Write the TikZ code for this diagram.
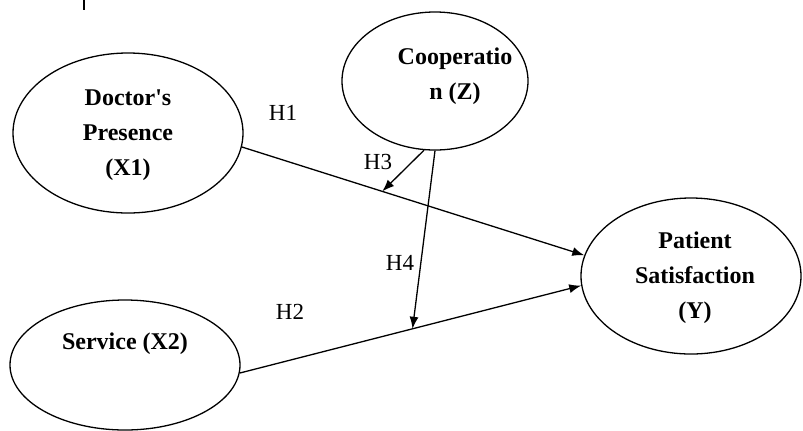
\documentclass[tikz,border=0pt]{standalone}
\usepackage{fontspec}
\setmainfont{Liberation Serif}
\usetikzlibrary{shapes.geometric,arrows.meta,calc}
\tikzset{
  construct/.style={draw, ellipse, line width=0.65pt, inner sep=0pt},
  ctext/.style={font=\fontsize{12}{17.5}\selectfont\bfseries, align=center, inner sep=0pt},
  hlabel/.style={font=\fontsize{11.5}{14}\selectfont, inner sep=0pt},
  path/.style={line width=0.65pt, -{Latex[length=6pt,width=4.5pt]}}
}
\begin{document}
\begin{tikzpicture}[x=0.5pt,y=-0.5pt]
\useasboundingbox (0,0) rectangle (803,430);
% tick at top
\coordinate (t1) at (84,0);
\coordinate (t2) at (84,10);
\draw[line width=0.6pt] (t1) -- (t2);
% constructs
\node[construct, minimum width=115pt, minimum height=80pt] (x1) at (128,133) {};
\node[construct, minimum width=93pt, minimum height=69pt] (z) at (435,81) {};
\node[construct, minimum width=110pt, minimum height=78pt] (y) at (691,276) {};
\node[construct, minimum width=115pt, minimum height=65pt] (x2) at (125,365) {};
% texts
\node[ctext] (tx1) at (128,135) {Doctor\textquotesingle s\\Presence\\(X1)};
\node[ctext, text depth=0pt] (tz) at (455,74) {Cooperatio\\n (Z)};
\node[ctext] (ty) at (695,278) {Patient\\Satisfaction\\(Y)};
\node[ctext] (tx2) at (125,344) {Service (X2)};
% main paths
\coordinate (h1s) at (x1.-7);
\coordinate (h1e) at (y.169.6);
\coordinate (h2s) at (x2.-4);
\coordinate (h2e) at (y.185.7);
\draw[path] (h1s) -- (h1e);
\draw[path] (h2s) -- (h2e);
% moderation
\coordinate (m1) at ($(h1s)!0.41!(h1e)$);
\coordinate (m2) at ($(h2s)!0.506!(h2e)$);
\draw[path] (z.261.5) -- (m1);
\draw[path] (z.270) -- (m2);
% labels
\node[hlabel] (lh1) at (283,113) {H1};
\node[hlabel] (lh3) at (378,162) {H3};
\node[hlabel] (lh4) at (400,263) {H4};
\node[hlabel] (lh2) at (290,312) {H2};
\end{tikzpicture}
\end{document}
